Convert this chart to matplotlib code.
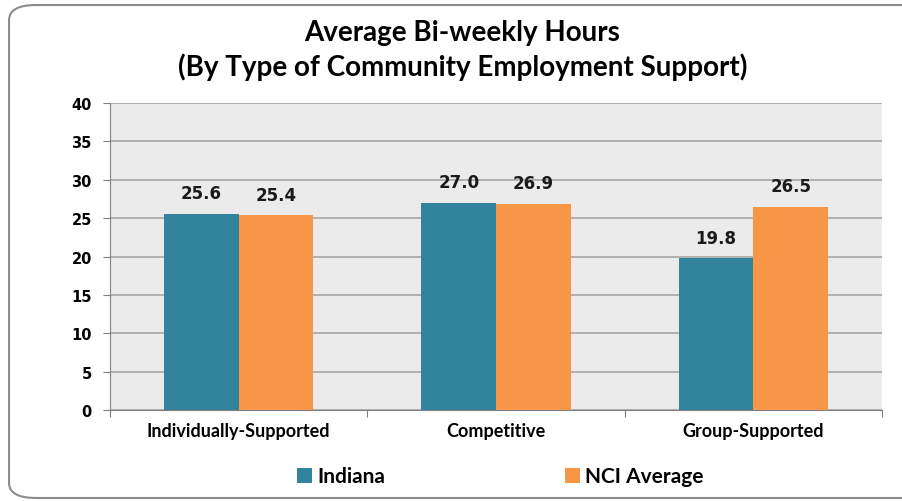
import numpy as np
import matplotlib.pyplot as plt
from matplotlib.patches import FancyBboxPatch

categories = ['Individually-Supported', 'Competitive', 'Group-Supported']
indiana = [25.6, 27.0, 19.8]
nci_avg = [25.4, 26.9, 26.5]
yticks = [0, 5, 10, 15, 20, 25, 30, 35, 40]

teal = '#31849B'
orange = '#F79646'

fig = plt.figure(figsize=(9.03, 5.02), dpi=100)

# rounded frame around the chart
frame = FancyBboxPatch((0.010, 0.006), 1.05, 0.982, boxstyle='round,pad=0,rounding_size=0.03',
                       transform=fig.transFigure, fill=False, edgecolor='#8c8c8c', linewidth=1.5)
fig.patches.append(frame)

ax = fig.add_axes([0.1218, 0.1813, 0.855, 0.6115])
ax.set_facecolor('#EBEBEB')

x = np.arange(len(categories))
w = 0.29
b1 = ax.bar(x - w / 2, indiana, w, color=teal, label='Indiana', zorder=3)
b2 = ax.bar(x + w / 2, nci_avg, w, color=orange, label='NCI Average', zorder=3)

for bars, vals in [(b1, indiana), (b2, nci_avg)]:
    for r, v in zip(bars, vals):
        ax.text(r.get_x() + r.get_width() / 2, v + 1.5, f'{v:.1f}', ha='center', va='bottom',
                fontsize=12, fontweight='bold', color='#1a1a1a', family='DejaVu Sans')

ax.set_xlim(-0.5, 2.5)
ax.set_ylim(0, 40)
ax.set_yticks(yticks)
ax.set_yticklabels([str(t) for t in yticks], fontsize=10.5, fontweight='bold', family='DejaVu Sans')
ax.yaxis.grid(True, color='#a6a6a6', linewidth=1.2, zorder=0)
ax.set_axisbelow(True)

ax.set_xticks([-0.5, 0.5, 1.5, 2.5])
ax.set_xticklabels([])
ax.set_xticks(x, minor=True)
ax.set_xticklabels(categories, minor=True, fontsize=13, fontweight='bold', family='Lato')
ax.tick_params(axis='x', which='minor', length=0, pad=9)
ax.tick_params(axis='x', which='major', length=5, color='#808080')
ax.tick_params(axis='y', length=5, color='#808080', pad=8)

for s in ['top', 'right']:
    ax.spines[s].set_visible(False)
for s in ['left', 'bottom']:
    ax.spines[s].set_color('#808080')

fig.text(0.512, 0.934, 'Average Bi-weekly Hours', ha='center', va='center',
         fontsize=20, fontweight='bold', family='Lato')
fig.text(0.512, 0.866, '(By Type of Community Employment Support)', ha='center', va='center',
         fontsize=20, fontweight='bold', family='Lato')

leg = fig.legend(handles=[b1, b2], loc='center', bbox_to_anchor=(0.554, 0.049), ncol=2,
                 frameon=False, prop={'family': 'Lato', 'weight': 'bold', 'size': 15},
                 handlelength=0.75, handleheight=0.75, handletextpad=0.25, columnspacing=8.6)

fig.savefig('out.png', dpi=100)
